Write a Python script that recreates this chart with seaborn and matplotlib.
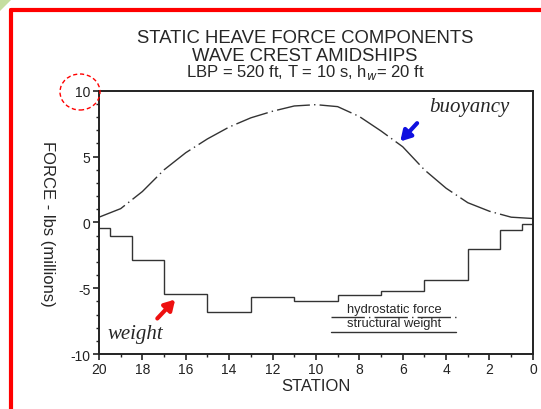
import numpy as np
import pandas as pd
import matplotlib
matplotlib.use("Agg")
import matplotlib.pyplot as plt
import seaborn as sns
from matplotlib.patches import Ellipse, Polygon
from matplotlib.lines import Line2D
from matplotlib.ticker import MultipleLocator

# buoyancy (hydrostatic force), per station
stations = [20, 19, 18, 17, 16, 15, 14, 13, 12, 11, 10, 9, 8, 7, 6, 5, 4, 3, 2, 1, 0]
buoyancy = [0.4, 1.05, 2.35, 4.0, 5.3, 6.35, 7.25, 7.95, 8.45, 8.85, 8.95, 8.8,
            8.05, 6.95, 5.75, 4.0, 2.6, 1.5, 0.85, 0.4, 0.3]

# structural weight, stepwise between these station edges
weight_edges = [20, 19.5, 18.5, 17, 15, 13, 11, 9, 7, 5, 3, 1.5, 0.5, 0]
weight_vals = [-0.45, -1.0, -2.85, -5.45, -6.8, -5.7, -6.0, -5.5, -5.2, -4.35,
               -2.0, -0.6, -0.15]

df = pd.DataFrame({"station": stations, "force": buoyancy})

sns.set_style("white")
plt.rcParams['font.family'] = ['Liberation Sans', 'DejaVu Sans']
plt.rcParams['axes.unicode_minus'] = False

dash = [24, 3, 1, 3]

fig = plt.figure(figsize=(5.41, 4.10), dpi=100)
ax = fig.add_axes([0.183, 0.134, 0.802, 0.642])

sns.lineplot(data=df, x="station", y="force", ax=ax, color="#333333",
             linewidth=1.0, dashes=False)
ax.lines[0].set_dashes(dash)
ax.stairs(weight_vals, weight_edges, color="#333333", linewidth=1.0, baseline=None)

ax.set_xlim(20, 0)
ax.set_ylim(-10, 10)
ax.xaxis.set_major_locator(MultipleLocator(2))
ax.xaxis.set_minor_locator(MultipleLocator(1))
ax.yaxis.set_major_locator(MultipleLocator(5))
ax.yaxis.set_minor_locator(MultipleLocator(1))
ax.tick_params(which="both", bottom=True, left=True)
ax.tick_params(which="major", direction="out", length=4, width=1.2, labelsize=10,
               colors="#222222", pad=2)
ax.tick_params(which="minor", direction="out", length=2.5, width=1.0, colors="#222222")
for s in ax.spines.values():
    s.set_color("#222222")
    s.set_linewidth(1.4)

ax.set_xlabel("STATION", fontsize=12, labelpad=1)
ax.set_ylabel("FORCE - lbs (millions)", fontsize=12, rotation=270)
ax.yaxis.set_label_coords(-0.135, 0.5)

# title block
fig.text(0.564, 0.907, "STATIC HEAVE FORCE COMPONENTS", ha="center", va="center", fontsize=13.3)
fig.text(0.564, 0.863, "WAVE CREST AMIDSHIPS", ha="center", va="center", fontsize=13.3)
fig.text(0.564, 0.822, r"LBP = 520 ft, T = 10 s, h$_w$= 20 ft", ha="center", va="center",
         fontsize=12)

# legend-like labels
ax.text(6.4, -7.0, "hydrostatic force", fontsize=9.3, ha="center", va="bottom")
ax.plot([9.3, 3.55], [-7.2, -7.2], color="#333333", linewidth=1.0, dashes=dash)
ax.text(6.4, -8.12, "structural weight", fontsize=9.3, ha="center", va="bottom")
ax.plot([9.3, 3.55], [-8.32, -8.32], color="#333333", linewidth=1.0)

# annotations
ax.annotate("", xy=(6.2, 6.0), xytext=(5.25, 7.7),
            arrowprops=dict(arrowstyle="-|>,head_length=0.6,head_width=0.35",
                            color="#1010e0", lw=3))
ax.text(4.8, 8.8, "buoyancy", fontsize=15, style="italic",
        family=["Liberation Serif", "DejaVu Serif"], ha="left", va="center")
ax.annotate("", xy=(16.4, -5.7), xytext=(17.4, -7.45),
            arrowprops=dict(arrowstyle="-|>,head_length=0.6,head_width=0.35",
                            color="#ee1010", lw=3))
ax.text(19.6, -8.45, "weight", fontsize=15, style="italic",
        family=["Liberation Serif", "DejaVu Serif"], ha="left", va="center")

# red dashed circle round the 10 label
fig.add_artist(Ellipse((80 / 541, 1 - 93 / 410), 40 / 541, 36 / 410,
                       transform=fig.transFigure, fill=False, edgecolor="red",
                       linestyle=(0, (3, 2)), linewidth=1.0))

# red frame and corner mark
fig.add_artist(Line2D([11 / 541, 11 / 541], [0, 1 - 11 / 410], color="red", linewidth=3,
                      transform=fig.transFigure))
fig.add_artist(Line2D([11 / 541, 1], [1 - 11 / 410, 1 - 11 / 410], color="red", linewidth=3,
                      transform=fig.transFigure))
fig.add_artist(Polygon([[0, 1], [12 / 541, 1], [0, 1 - 12 / 410]], closed=True,
                       transform=fig.transFigure, facecolor="#c5dea0", edgecolor="none"))

fig.savefig("out.png", dpi=100)
